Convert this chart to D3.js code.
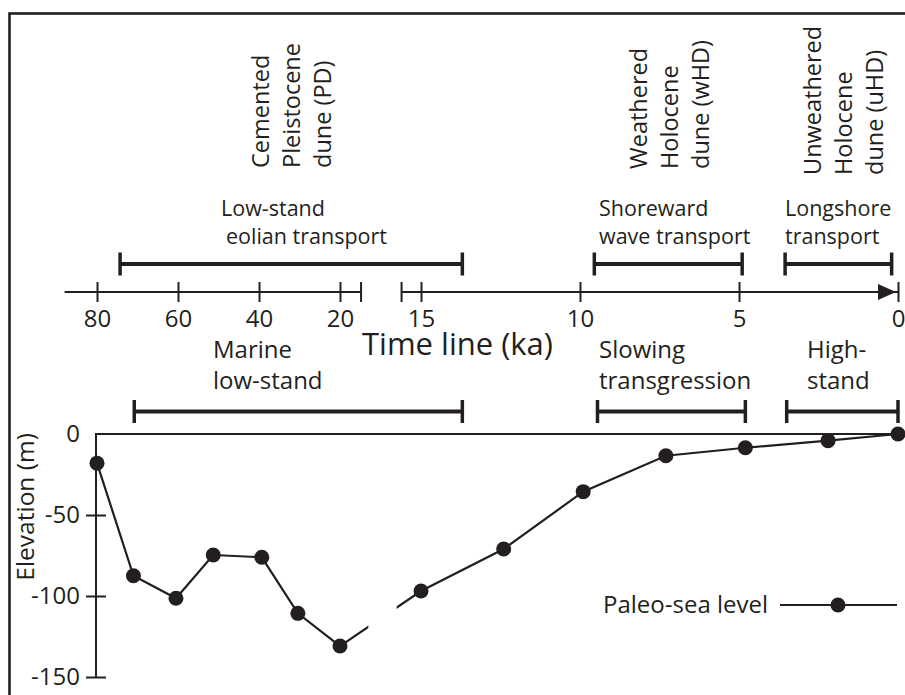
<!DOCTYPE html>
<html>
<head>
<meta charset="utf-8">
<script src="https://cdnjs.cloudflare.com/ajax/libs/d3/7.8.5/d3.min.js"></script>
<style>
  html, body { margin: 0; padding: 0; background: #fff; }
  figure { margin: 0; }
  svg { display: block; }
</style>
</head>
<body>
<figure id="paleo"></figure>
<script>
// Time line ticks (ka), both sides of the axis break
const oldTicks = [80, 60, 40, 20];
const youngTicks = [15, 10, 5, 0];
const elevationTicks = [0, -50, -100, -150];

// Paleo-sea level (age in ka, elevation in m)
const seaLevelAge = [80, 71, 60.5, 51.3, 39.3, 30.4, 20, 15, 12.4, 9.9, 7.3, 4.8, 2.2, 0];
const seaLevelElevation = [-18, -87.5, -101.4, -74.7, -76.1, -110.7, -130.9, -96.9, -71, -35.6, -13.4, -8.5, -4.1, 0];

// Transport intervals above the time line
const transportNames = [['Low-stand', 'eolian transport'], ['Shoreward', 'wave transport'], ['Longshore', 'transport']];
const transportFrom = [74.3, 9.55, 3.55];
const transportTo = [13.7, 4.9, 0.2];

// Sea level stages below the time line
const stageNames = [['Marine', 'low-stand'], ['Slowing', 'transgression'], ['High-', 'stand']];
const stageFrom = [70.8, 9.45, 3.5];
const stageTo = [13.7, 4.8, 0];

// Dune units
const duneNames = [['Cemented', 'Pleistocene', 'dune (PD)'], ['Weathered', 'Holocene', 'dune (wHD)'], ['Unweathered', 'Holocene', 'dune (uHD)']];

const width = 905;
const height = 695;
const ink = '#231f20';
const font = "'Open Sans', 'Noto Sans', sans-serif";
const timeY = 292;
const yAxisX = 96;

// piecewise time scale, 80-20 ka squeezed on the left
const x = d3.scaleLinear()
    .domain([80, 20, 15, 0])
    .range([97, 340, 421, 898]);

const y = d3.scaleLinear()
    .domain([0, -150])
    .range([434, 677]);

let svg;

function createSvg() {
  svg = d3.select('figure#paleo')
      .append('svg')
      .attr('width', width)
      .attr('height', height)
      .style('font-family', font);

  // frame
  svg.append('rect')
      .attr('x', 9.5)
      .attr('y', 13.5)
      .attr('width', 1000)
      .attr('height', 1000)
      .attr('fill', 'none')
      .attr('stroke', ink)
      .attr('stroke-width', 2.6);
}

function drawTimeline() {
  const g = svg.append('g');
  const breakFrom = 18.7, breakTo = 16.2;

  g.append('line')
      .attr('x1', x(88)).attr('x2', x(breakFrom))
      .attr('y1', timeY).attr('y2', timeY)
      .attr('stroke', ink).attr('stroke-width', 2);
  g.append('line')
      .attr('x1', x(breakTo)).attr('x2', x(0))
      .attr('y1', timeY).attr('y2', timeY)
      .attr('stroke', ink).attr('stroke-width', 2);

  // caps at the break
  g.selectAll('.cap')
      .data([breakFrom, breakTo])
      .enter()
      .append('line')
      .attr('x1', d => x(d)).attr('x2', d => x(d))
      .attr('y1', timeY - 10).attr('y2', timeY + 10)
      .attr('stroke', ink).attr('stroke-width', 2);

  // arrow head
  g.append('path')
      .attr('d', `M${x(0) - 20},${timeY - 8}L${x(0) - 2},${timeY}L${x(0) - 20},${timeY + 8}Z`)
      .attr('fill', ink);

  const axis = svg.append('g')
      .attr('transform', `translate(0,${timeY})`)
      .call(d3.axisBottom(x)
          .tickValues(oldTicks.concat(youngTicks))
          .tickSize(10)
          .tickFormat(d => `${d}`))
      .attr('font-family', font)
      .attr('font-size', 24);
  axis.select('.domain').remove();
  axis.selectAll('.tick line')
      .attr('y1', -10).attr('y2', 10)
      .attr('stroke', ink).attr('stroke-width', 2);
  axis.selectAll('.tick text')
      .attr('y', 35).attr('dy', null)
      .attr('fill', ink);

  svg.append('text')
      .attr('x', 362).attr('y', 355)
      .attr('font-size', 31)
      .attr('fill', ink)
      .text('Time line (ka)');
}

function drawIntervals(from, to, barY, names, spots, fontSize) {
  const g = svg.append('g');
  from.forEach((f, i) => {
    g.append('line')
        .attr('x1', x(f)).attr('x2', x(to[i]))
        .attr('y1', barY).attr('y2', barY)
        .attr('stroke', ink).attr('stroke-width', 4);
    [f, to[i]].forEach(t => {
      g.append('line')
          .attr('x1', x(t)).attr('x2', x(t))
          .attr('y1', barY - 11.5).attr('y2', barY + 11.5)
          .attr('stroke', ink).attr('stroke-width', 3.5);
    });
    names[i].forEach((line, j) => {
      g.append('text')
          .attr('x', spots[i][j][0]).attr('y', spots[i][j][1])
          .attr('font-size', fontSize)
          .attr('fill', ink)
          .text(line);
    });
  });
}

function drawDunes() {
  const baseX = [269, 647, 821];
  const bottomY = [168, 169, 175];
  duneNames.forEach((lines, i) => {
    lines.forEach((line, j) => {
      svg.append('text')
          .attr('transform', `translate(${baseX[i] + j * 31},${bottomY[i]}) rotate(-90)`)
          .attr('font-size', 23.5)
          .attr('fill', ink)
          .text(line);
    });
  });
}

function drawSeaLevel() {
  // Draw the Y-axis
  const axis = svg.append('g')
      .attr('transform', `translate(${yAxisX},0)`)
      .call(d3.axisLeft(y).tickValues(elevationTicks).tickSize(10).tickFormat(d => `${d}`))
      .attr('font-family', font)
      .attr('font-size', 24);
  axis.select('.domain').remove();
  axis.selectAll('.tick line')
      .attr('x1', -10).attr('x2', 10)
      .attr('stroke', ink).attr('stroke-width', 2)
      .attr('display', d => d === 0 ? 'none' : null);
  axis.selectAll('.tick text')
      .attr('x', -16)
      .attr('fill', ink);

  svg.append('path')
      .attr('d', `M${yAxisX},${y(-150)}V${y(0)}H${x(0)}`)
      .attr('fill', 'none')
      .attr('stroke', ink).attr('stroke-width', 2);

  svg.append('text')
      .attr('transform', `translate(34,${(y(0) + y(-90)) / 2}) rotate(-90)`)
      .attr('text-anchor', 'middle')
      .attr('font-size', 24.5)
      .attr('fill', ink)
      .text('Elevation (m)');

  // gap in the curve across the axis break
  const gapFrom = 18.25, gapTo = 16.5;
  const clip = svg.append('clipPath').attr('id', 'gap');
  clip.append('rect').attr('x', 0).attr('y', 0).attr('width', x(gapFrom)).attr('height', height);
  clip.append('rect').attr('x', x(gapTo)).attr('y', 0).attr('width', width).attr('height', height);

  const points = seaLevelAge.map((a, i) => [a, seaLevelElevation[i]]);
  svg.append('path')
      .datum(points)
      .attr('clip-path', 'url(#gap)')
      .attr('d', d3.line().x(d => x(d[0])).y(d => y(d[1])))
      .attr('fill', 'none')
      .attr('stroke', ink).attr('stroke-width', 2.2);

  svg.selectAll('.dot')
      .data(points)
      .enter()
      .append('circle')
      .attr('cx', d => x(d[0]))
      .attr('cy', d => y(d[1]))
      .attr('r', 7.5)
      .attr('fill', ink);

  // legend
  svg.append('text')
      .attr('x', 603).attr('y', 613)
      .attr('font-size', 24)
      .attr('fill', ink)
      .text('Paleo-sea level');
  svg.append('line')
      .attr('x1', 780).attr('x2', 897)
      .attr('y1', 605).attr('y2', 605)
      .attr('stroke', ink).attr('stroke-width', 2.2);
  svg.append('circle')
      .attr('cx', 838).attr('cy', 605).attr('r', 7.5)
      .attr('fill', ink);
}

createSvg();
drawDunes();
drawIntervals(transportFrom, transportTo, 264, transportNames,
    [[[221, 216], [226, 244]], [[599, 216], [599, 244]], [[785, 216], [785, 244]]], 21.5);
drawIntervals(stageFrom, stageTo, 411.5, stageNames,
    [[[213, 358], [213, 389]], [[599, 358], [599, 389]], [[807, 358], [807, 389]]], 24);
drawTimeline();
drawSeaLevel();
</script>
</body>
</html>
